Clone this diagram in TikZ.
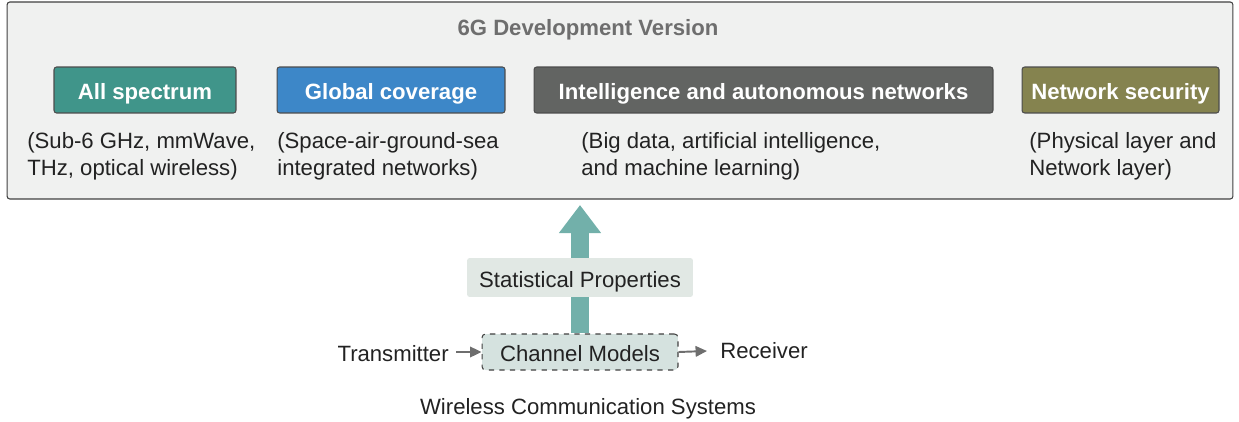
\documentclass[tikz,border=0pt]{standalone}
\usepackage{fontspec}
\setmainfont{Liberation Sans}
\usepackage{tikz}
\usetikzlibrary{arrows.meta}
\definecolor{panelgray}{HTML}{F0F1F0}
\definecolor{spectrumc}{HTML}{40958A}
\definecolor{coveragec}{HTML}{3D87C8}
\definecolor{intelc}{HTML}{626462}
\definecolor{securityc}{HTML}{85834F}
\definecolor{statc}{HTML}{E1E8E4}
\definecolor{chanc}{HTML}{D5E2DF}
\definecolor{upc}{HTML}{72B0AA}
\definecolor{smallarrc}{HTML}{6E6E6E}
\definecolor{titlec}{HTML}{6E6E6E}
\definecolor{txtc}{HTML}{222222}

\begin{document}
\begin{tikzpicture}[x=0.02cm,y=-0.02cm,
  font=\fontsize{12.6}{15.3}\selectfont,
  every node/.style={inner sep=0pt, text=txtc},
  capbox/.style={text height=11.2pt, text depth=0pt},
  feature/.style={capbox, draw=black!70, rounded corners=1.5pt, line width=0.6pt,
    minimum height=0.92cm, text=white, font=\fontsize{12.6}{15.3}\selectfont\bfseries},
  descr/.style={anchor=west, align=left},
  smallarr/.style={draw=smallarrc, line width=1.1pt, -{Triangle[length=6.5pt,width=6pt]}}]

\useasboundingbox (0,0) rectangle (1239,422);

% outer panel
\node[draw=black!75, fill=panelgray, rounded corners=1.5pt, line width=0.6pt,
  minimum width=24.52cm, minimum height=3.94cm] (version) at (620,100.5) {};
\node[capbox, font=\fontsize{12.6}{15.3}\selectfont\bfseries, text=titlec] (title) at (588,26) {6G Development Version};

% the four directions
\node[feature, fill=spectrumc, minimum width=3.64cm] (spec) at (145,90) {All spectrum};
\node[feature, fill=coveragec, minimum width=4.56cm] (cover) at (391,90) {Global coverage};
\node[feature, fill=intelc, minimum width=9.18cm] (intel) at (763.5,90) {Intelligence and autonomous networks};
\node[feature, fill=securityc, minimum width=3.94cm] (secur) at (1120.5,90) {Network security};

\node[descr] (specd) at (27,156) {(Sub-6 GHz, mmWave,\\THz, optical wireless)};
\node[descr] (coverd) at (277,156) {(Space-air-ground-sea\\integrated networks)};
\node[descr] (inteld) at (581,156) {(Big data, artificial intelligence,\\and machine learning)};
\node[descr] (securd) at (1029,156) {(Physical layer and\\Network layer)};

% wireless system
\node[capbox, draw=black!75, dashed, fill=chanc, rounded corners=2pt, line width=0.6pt,
  minimum width=3.92cm, minimum height=0.72cm] (chan) at (580,352) {Channel Models};
\coordinate (tip) at (580,205);
\draw[upc, line width=10.2pt, -{Triangle[length=16pt,width=23pt]}] (chan.north) -- (tip);
\node[capbox, fill=statc, rounded corners=1.5pt, minimum width=4.52cm, minimum height=0.78cm]
  (stat) at (580,277.5) {Statistical Properties};

\node[capbox, anchor=east] (tx) at (449,352) {Transmitter};
\node[capbox, anchor=west] (rx) at (720,349) {Receiver};
\coordinate (rxin) at (707,351);
\draw[smallarr] (tx.east) ++(4pt,0) -- (chan.west);
\draw[smallarr] (chan.east) -- (rxin);

\node[capbox] (wcs) at (588,405) {Wireless Communication Systems};
\end{tikzpicture}
\end{document}
